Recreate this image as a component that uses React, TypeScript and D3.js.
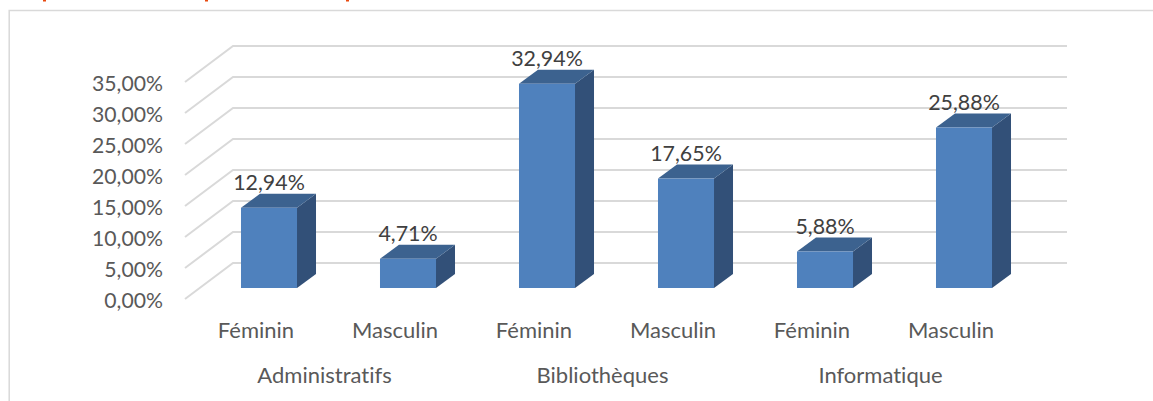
import React, { useEffect, useRef } from 'react'
import * as d3 from 'd3'

const categories = ['Féminin', 'Masculin', 'Féminin', 'Masculin', 'Féminin', 'Masculin']
const groups = ['Administratifs', 'Bibliothèques', 'Informatique']
const values = [12.94, 4.71, 32.94, 17.65, 5.88, 25.88]
const ticks = [0, 5, 10, 15, 20, 25, 30, 35]
// bits of the heading above that stick into the crop
const headingSpecks = [43, 205, 346]

const fr = (v: number) => v.toFixed(2).replace('.', ',') + '%'
const FONT = 'Lato, Carlito, sans-serif'

export default function App() {
  const ref = useRef<SVGSVGElement>(null)

  useEffect(() => {
    const svg = d3.select(ref.current)
    svg.selectAll('*').remove()

    const y = d3.scaleLinear().domain([0, 35]).range([288, 71])
    const x = d3.scaleBand<number>()
      .domain(values.map((d, i) => i))
      .range([199.5, 1033.5])
      .paddingInner(0.597)
      .paddingOuter(0.2985)

    svg.append('g').selectAll('rect').data(headingSpecks).enter().append('rect')
      .attr('x', d => d).attr('y', 0)
      .attr('width', 3).attr('height', 1.5)
      .attr('fill', '#e8490f')

    // frame
    svg.append('path')
      .attr('d', 'M9.2,401V10.6H1153')
      .attr('fill', 'none').attr('stroke', '#d9d9d9').attr('stroke-width', 1.5)

    // gridlines: side wall then back wall
    const line = d3.line()
    svg.append('g').selectAll('path').data(ticks).enter().append('path')
      .attr('d', d => line([[185, y(d) + 11], [233, y(d) - 25], [1067, y(d) - 25]]))
      .attr('fill', 'none').attr('stroke', '#d9d9d9').attr('stroke-width', 2)

    svg.append('g').selectAll('text').data(ticks).enter().append('text')
      .attr('x', 163).attr('y', d => y(d) + 19.5)
      .attr('text-anchor', 'end')
      .attr('font-family', FONT).attr('font-size', 21.2).attr('fill', '#595959')
      .text(d => fr(d))

    // bars
    const dx = 19, dy = 14
    const bars = svg.append('g').selectAll('g').data(values).enter().append('g')
    bars.append('path')
      .attr('d', (d, i) => {
        const r = x(i)! + x.bandwidth()
        return line([[r, y(d)], [r + dx, y(d) - dy], [r + dx, y(0) - dy], [r, y(0)]])
      })
      .attr('fill', '#325078')
    bars.append('path')
      .attr('d', (d, i) => {
        const l = x(i)!, r = l + x.bandwidth()
        return line([[l, y(d)], [l + dx, y(d) - dy], [r + dx, y(d) - dy], [r, y(d)]])
      })
      .attr('fill', '#3c628f')
    bars.append('rect')
      .attr('x', (d, i) => x(i)!)
      .attr('y', d => y(d))
      .attr('width', x.bandwidth())
      .attr('height', d => y(0) - y(d))
      .attr('fill', '#4f81bd')

    bars.append('text')
      .attr('x', (d, i) => x(i)! + x.bandwidth() / 2)
      .attr('y', d => y(d) - 18)
      .attr('text-anchor', 'middle')
      .attr('font-family', FONT).attr('font-size', 21.4).attr('fill', '#404040')
      .text(d => fr(d))

    // category labels
    svg.append('g').selectAll('text').data(categories).enter().append('text')
      .attr('x', (d, i) => x(i)! + x.bandwidth() / 2 - 13)
      .attr('y', 338)
      .attr('text-anchor', 'middle')
      .attr('font-family', FONT).attr('font-size', 22).attr('fill', '#595959')
      .style('font-variant-ligatures', 'none')
      .text(d => d)

    svg.append('g').selectAll('text').data(groups).enter().append('text')
      .attr('x', (d, i) => (x(i * 2)! + x(i * 2 + 1)! + x.bandwidth()) / 2 - 14)
      .attr('y', 383)
      .attr('text-anchor', 'middle')
      .attr('font-family', FONT).attr('font-size', 22).attr('fill', '#595959')
      .style('font-variant-ligatures', 'none')
      .text(d => d)
  }, [])

  return (
    <svg ref={ref} width={1153} height={401}
      style={{ position: 'absolute', left: 0, top: 0, background: '#fff' }} />
  )
}
